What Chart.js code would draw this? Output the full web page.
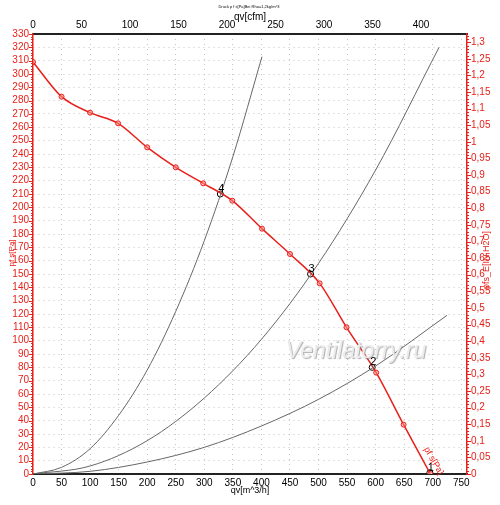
<!DOCTYPE html>
<html>
<head>
<meta charset="utf-8">
<script src="https://cdn.jsdelivr.net/npm/chart.js@4"></script>
<style>
  html, body { margin: 0; padding: 0; background: #fff; }
  #wrap { width: 500px; height: 505px; }
</style>
</head>
<body>
<div id="wrap"><canvas id="fanChart" width="500" height="505"></canvas></div>
<script>
/* ---------- data ---------- */
const fanFlow = [0, 50, 100, 149, 200, 250, 298, 349, 401, 450, 502, 549, 601, 649, 696];
const fanPressure = [309, 283, 271, 263, 245, 230, 218, 205, 184, 165, 143, 110, 76, 37, 0];

const sys4Flow = [0, 50, 100, 150, 200, 250, 300, 350, 401];
const sys4Pressure = [0, 5, 19, 44, 78, 122, 175, 238, 313];
const sys3Flow = [0, 100, 200, 300, 400, 500, 600, 711];
const sys3Pressure = [0, 6, 25, 57, 101, 158, 228, 320];
const sys2Flow = [0, 100, 200, 300, 400, 500, 600, 725];
const sys2Pressure = [0, 2, 9, 20, 36, 56, 81, 119];

const opLabels = ["1", "2", "3", "4"];
const opFlow = [695, 594, 486, 328];
const opPressure = [1, 80, 150, 210];

/* ---------- axis ranges ---------- */
const X_MAX = 760;        // m^3/h
const Y_MAX = 330;        // Pa
const CFM = 1.699;        // m^3/h per cfm
const PA_PER_INH2O = 249.09;

const RED = "#e8201a";
const FONT = "'Liberation Sans', Arial, sans-serif";

const toPoints = (xs, ys) => xs.map((x, i) => ({ x: x, y: ys[i] }));
const fmtComma = (v) => String(Math.round(v * 100) / 100).replace(".", ",");

/* ---------- extra drawing: tick marks, titles, labels ---------- */
const decorPlugin = {
  id: "decor",
  afterDraw(chart) {
    const ctx = chart.ctx;
    const ca = chart.chartArea;
    const sx = chart.scales.x, sy = chart.scales.y, sy2 = chart.scales.y2;
    ctx.save();

    // minor / major tick marks on the red axes
    ctx.strokeStyle = RED;
    ctx.lineWidth = 1;
    for (let v = 0; v <= Y_MAX; v += 2) {
      const py = Math.round(sy.getPixelForValue(v)) + 0.5;
      const len = v % 10 === 0 ? 4 : 2;
      ctx.beginPath();
      ctx.moveTo(ca.left - len, py);
      ctx.lineTo(ca.left, py);
      ctx.stroke();
    }
    for (let k = 0; k <= 132; k++) {
      const py = Math.round(sy2.getPixelForValue(k / 100)) + 0.5;
      const len = k % 5 === 0 ? 4 : 2;
      ctx.beginPath();
      ctx.moveTo(ca.right, py);
      ctx.lineTo(ca.right + len, py);
      ctx.stroke();
    }

    // watermark
    ctx.font = "italic 23px " + FONT;
    ctx.textAlign = "center";
    ctx.textBaseline = "middle";
    ctx.shadowColor = "rgba(140,140,140,0.7)";
    ctx.shadowOffsetX = 1;
    ctx.shadowOffsetY = 1;
    ctx.shadowBlur = 1;
    ctx.fillStyle = "#ececec";
    ctx.fillText("Ventilatorry.ru", 356, 352);
    ctx.shadowColor = "transparent";

    // titles
    ctx.fillStyle = "#000";
    ctx.font = "4px " + FONT;
    ctx.fillText("Druck p f s[Pa]Bei Rho=1,2kg/m^3", 249, 7);
    ctx.font = "10px " + FONT;
    ctx.fillText("qv[cfm]", 250, 17);
    ctx.font = "9px " + FONT;
    ctx.fillText("qv[m^3/h]", 250, 491);

    ctx.fillStyle = RED;
    ctx.save();
    ctx.translate(12, 253);
    ctx.rotate(-Math.PI / 2);
    ctx.font = "8px " + FONT;
    ctx.fillText("pf s[Pa]", 0, 0);
    ctx.restore();

    ctx.save();
    ctx.translate(487, 260);
    ctx.rotate(-Math.PI / 2);
    ctx.font = "9px " + FONT;
    ctx.fillText("pfs_E[IN H2O]", 0, 0);
    ctx.restore();

    // curve label along the fan line
    const last = fanFlow.length - 1;
    const lx = sx.getPixelForValue(fanFlow[last]);
    const ly = sy.getPixelForValue(fanPressure[last]);
    ctx.save();
    ctx.translate(lx + 3, ly - 13);
    ctx.rotate(Math.PI / 180 * 60);
    ctx.font = "9px " + FONT;
    ctx.fillText("pf s[Pa]", 0, 0);
    ctx.restore();

    // operating point numbers
    ctx.fillStyle = "#000";
    ctx.font = "11px " + FONT;
    ctx.textBaseline = "alphabetic";
    opLabels.forEach((t, i) => {
      const px = sx.getPixelForValue(opFlow[i]);
      const py = sy.getPixelForValue(opPressure[i]);
      ctx.fillText(t, px + 1, py - 2);
    });

    ctx.restore();
  },
};

const grayLine = (pts) => ({
  data: pts,
  showLine: true,
  borderColor: "#666",
  borderWidth: 1,
  pointRadius: 0,
  cubicInterpolationMode: "monotone",
});

new Chart(document.getElementById("fanChart"), {
  type: "scatter",
  plugins: [decorPlugin],
  data: {
    datasets: [
      grayLine(toPoints(sys4Flow, sys4Pressure)),
      grayLine(toPoints(sys3Flow, sys3Pressure)),
      grayLine(toPoints(sys2Flow, sys2Pressure)),
      {
        data: toPoints(fanFlow, fanPressure),
        showLine: true,
        borderColor: RED,
        borderWidth: 1.5,
        pointRadius: 2.5,
        pointBorderWidth: 1,
        pointBorderColor: RED,
        pointBackgroundColor: "rgba(255,140,140,0.55)",
        cubicInterpolationMode: "monotone",
      },
      {
        data: toPoints(opFlow, opPressure),
        showLine: false,
        pointRadius: 3,
        pointBorderWidth: 1,
        pointBorderColor: "#000",
        pointBackgroundColor: "#fff",
      },
    ],
  },
  options: {
    responsive: false,
    animation: false,
    layout: { padding: 0 },
    plugins: {
      legend: { display: false },
      tooltip: { enabled: false },
      title: { display: false },
    },
    scales: {
      x: {
        type: "linear",
        position: "bottom",
        min: 0,
        max: X_MAX,
        afterFit: (s) => { s.height = 31; },
        grid: { color: "#c4c4c4", lineWidth: 1, drawTicks: false },
        border: { display: true, color: "#222", width: 2, dash: [1, 4] },
        ticks: {
          stepSize: 50,
          includeBounds: false,
          autoSkip: false,
          maxRotation: 0,
          padding: 3,
          color: "#000",
          font: { family: FONT, size: 10 },
        },
      },
      x2: {
        type: "linear",
        position: "top",
        min: 0,
        max: X_MAX / CFM,
        afterFit: (s) => { s.height = 34; },
        grid: { drawOnChartArea: false, drawTicks: false },
        border: { display: true, color: "#222", width: 2 },
        ticks: {
          stepSize: 50,
          includeBounds: false,
          autoSkip: false,
          maxRotation: 0,
          padding: 3,
          color: "#000",
          font: { family: FONT, size: 10 },
        },
      },
      y: {
        type: "linear",
        position: "left",
        min: 0,
        max: Y_MAX,
        afterFit: (s) => { s.width = 33; },
        grid: { color: "#c4c4c4", lineWidth: 1, drawTicks: false },
        border: { display: true, color: RED, width: 1.5, dash: [1, 4] },
        ticks: {
          stepSize: 10,
          autoSkip: false,
          padding: 4,
          color: RED,
          font: { family: FONT, size: 10 },
        },
      },
      y2: {
        type: "linear",
        position: "right",
        min: 0,
        max: Y_MAX / PA_PER_INH2O,
        afterFit: (s) => { s.width = 33; },
        grid: { drawOnChartArea: false, drawTicks: false },
        border: { display: true, color: RED, width: 1.5 },
        ticks: {
          stepSize: 0.05,
          includeBounds: false,
          autoSkip: false,
          padding: 4,
          color: RED,
          font: { family: FONT, size: 10 },
          callback: (v) => fmtComma(v),
        },
      },
    },
  },
});
</script>
</body>
</html>
